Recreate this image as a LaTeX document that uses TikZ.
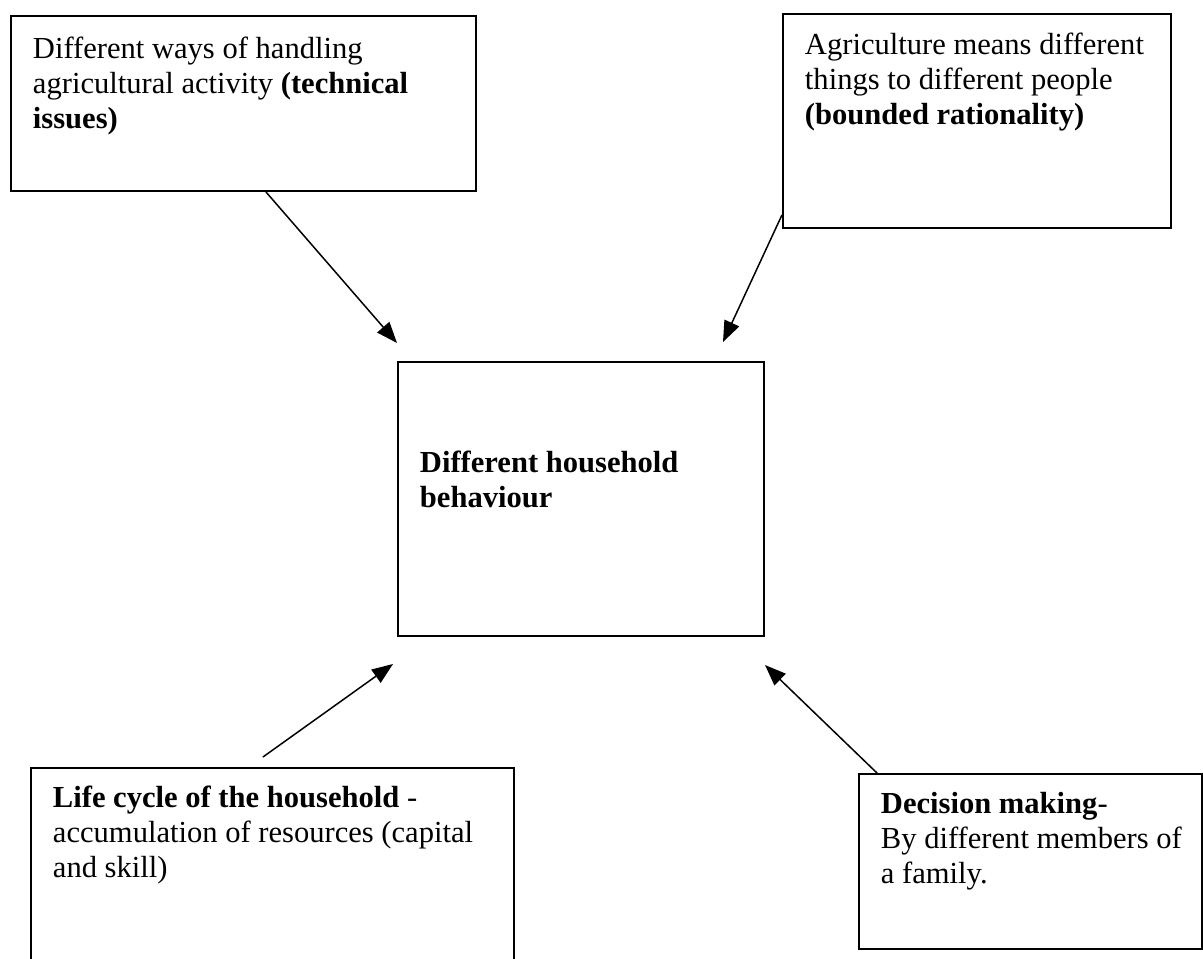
\documentclass[tikz,border=0pt]{standalone}
\usepackage{fontspec}
\setmainfont{Liberation Serif}
\usepackage{tikz}
\usetikzlibrary{arrows.meta}
\usetikzlibrary{calc}

\tikzset{card/.style={draw,line width=1.1pt,anchor=north west,inner sep=0pt},
	link/.style={line width=0.85pt,-{Triangle[length=0.42cm,width=0.32cm]}}}
% width, height, top gap, lines
\newcommand{\cardtext}[4]{\parbox[t][#2][t]{#1}{\vspace*{#3}\hspace*{0.44cm}%
\begin{tabular}[t]{@{}l@{}}#4\end{tabular}}}

\begin{document}
\begin{tikzpicture}[x=0.02cm,y=-0.02cm]
\fontsize{17.4}{19.9}\selectfont
\useasboundingbox (0,0) rectangle (1203,958);
% les cinq cadres
\node (tech) at (10,15) [card] {\cardtext{9.3cm}{3.5cm}{0.37cm}{%
Different ways of handling\\
agricultural activity \textbf{(technical}\\
\textbf{issues)}}};
\node (ratio) at (782,13) [card] {\cardtext{7.76cm}{4.28cm}{0.32cm}{%
Agriculture means different\\
things to different people\\
\textbf{(bounded rationality)}}};
\node (house) at (397,361) [card] {\cardtext{7.32cm}{5.48cm}{1.72cm}{%
\textbf{Different household}\\
\textbf{behaviour}}};
\node (life) at (30,767) [card] {\cardtext{9.66cm}{4.0cm}{0.31cm}{%
\textbf{Life cycle of the household} -\\
accumulation of resources (capital\\
and skill)}};
\node (decide) at (858,773) [card] {\cardtext{6.86cm}{3.5cm}{0.31cm}{%
\textbf{Decision making}-\\
By different members of\\
a family.}};
% pointes des fleches
\coordinate (tipA) at (397,343);
\coordinate (tipB) at (723,342);
\coordinate (tipC) at (393,664);
\coordinate (tipD) at (765,665);
\draw[link] ([xshift=0.45cm]tech.south) -- (tipA);
\draw[link] ([yshift=0.28cm]ratio.south west) -- (tipB);
\draw[link] ([xshift=-0.19cm,yshift=0.2cm]life.north) -- (tipC);
\draw[link] ([xshift=0.38cm]decide.north west) -- (tipD);
\end{tikzpicture}
\end{document}
